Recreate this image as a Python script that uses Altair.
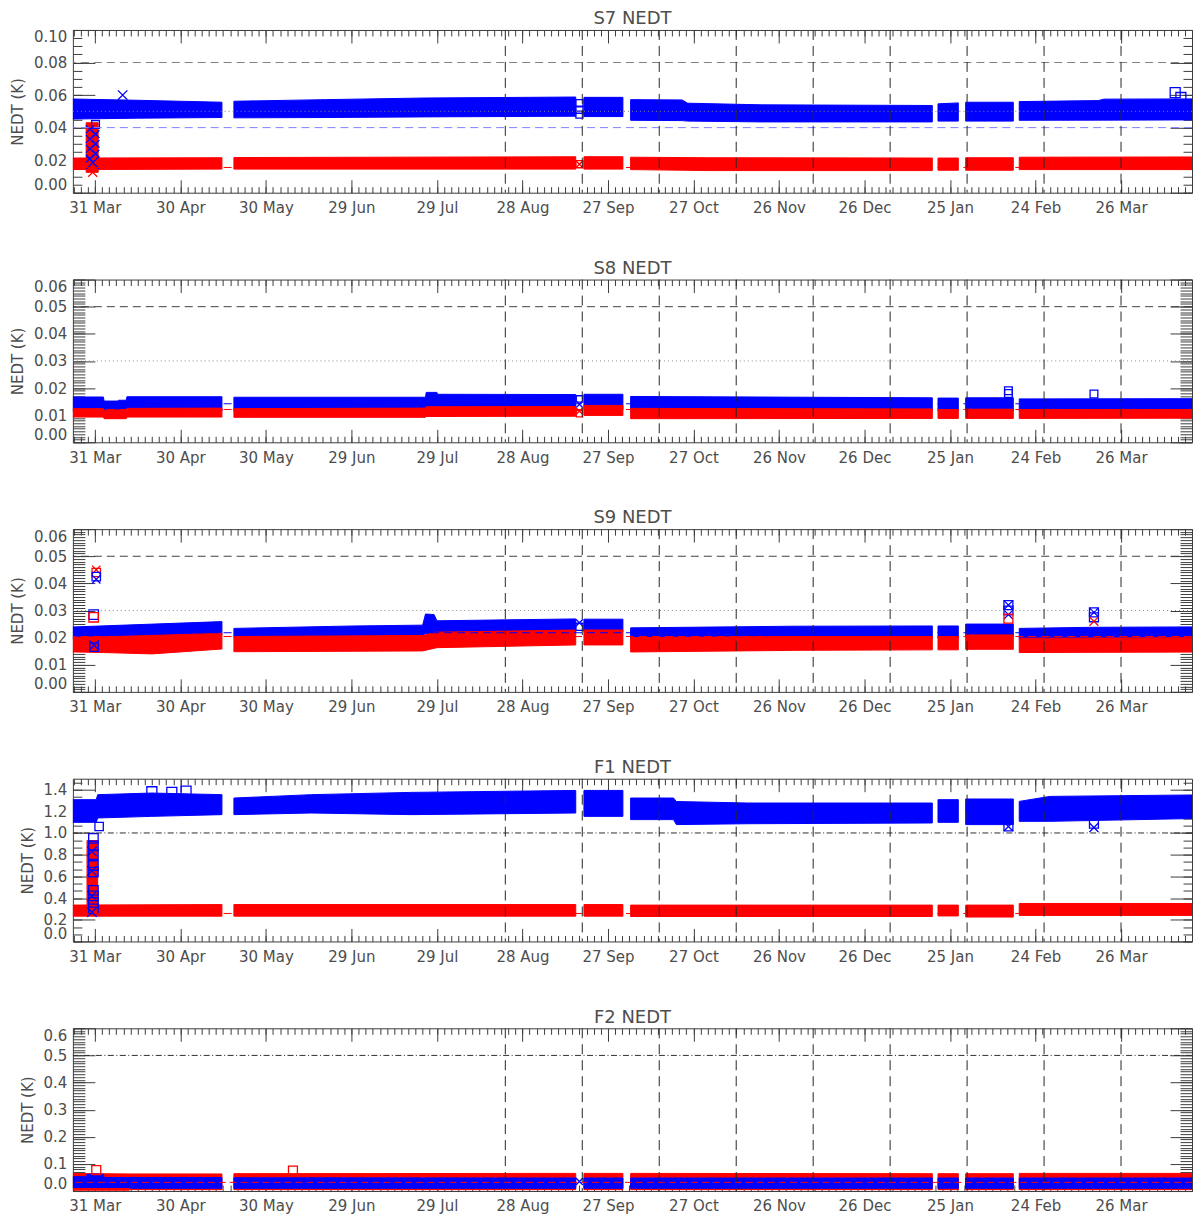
import json
import altair as alt
import pandas as pd

REF = pd.Timestamp("2017-03-31")


def day(s):
    return (pd.Timestamp(s) - REF) / pd.Timedelta(days=1)


W, H = 1121, 163
X_DOMAIN = [-7.7, 384.9]
BLUE, RED = "#0000ff", "#ff0000"
TXT = "#4d4d4d"
AXC = "#3c3c3c"
FONT = "DejaVu Sans"
XPATH = "M-1,-1L1,1M-1,1L1,-1"

# ---------------- x axis ----------------
X_MAJOR = [0, 30, 60, 90, 120, 150, 180, 210, 240, 270, 300, 330, 360]
X_LABELS = ["31 Mar", "30 Apr", "30 May", "29 Jun", "29 Jul", "28 Aug", "27 Sep",
            "27 Oct", "26 Nov", "26 Dec", "25 Jan", "24 Feb", "26 Mar"]
X_MINOR = [round(-7.5 + 2.5 * i, 2) for i in range(159) if -7.5 + 2.5 * i <= X_DOMAIN[1]]
CYCLE_DATES = ["2017-08-22", "2017-09-18", "2017-10-15", "2017-11-11", "2017-12-08",
               "2018-01-04", "2018-01-31", "2018-02-27", "2018-03-26"]

# ---------------- bands: (segment, date, low, high) ----------------
S7_BLUE = [
    ("A", "2017-03-20", 0.0452, 0.0577), ("A", "2017-04-15", 0.0458, 0.0568),
    ("A", "2017-05-14 14:00", 0.0462, 0.0556),
    ("B", "2017-05-18 19:00", 0.0460, 0.0562), ("B", "2017-06-20", 0.0462, 0.0572),
    ("B", "2017-07-25", 0.0466, 0.0582), ("B", "2017-09-15 17:00", 0.0470, 0.0588),
    ("C", "2017-09-18 14:00", 0.0468, 0.0586), ("C", "2017-10-02 06:00", 0.0468, 0.0586),
    ("D", "2017-10-04 23:00", 0.0445, 0.0572), ("D", "2017-10-23", 0.0443, 0.0570),
    ("D", "2017-10-25", 0.0440, 0.0550), ("D", "2017-11-20", 0.0435, 0.0540),
    ("D", "2018-01-18 19:00", 0.0435, 0.0536),
    ("E", "2018-01-20 19:00", 0.0440, 0.0546), ("E", "2018-01-27 22:00", 0.0440, 0.0552),
    ("F", "2018-01-30 12:00", 0.0440, 0.0556), ("F", "2018-02-16 05:00", 0.0440, 0.0556),
    ("G", "2018-02-18 07:00", 0.0445, 0.0560), ("G", "2018-03-18", 0.0446, 0.0566),
    ("G", "2018-03-20", 0.0446, 0.0575), ("G", "2018-04-30", 0.0448, 0.0577),
]
S7_RED = [
    ("A", "2017-03-20", 0.0142, 0.0213), ("A", "2017-05-14 14:00", 0.0145, 0.0215),
    ("S", "2017-03-27 23:00", 0.0125, 0.0430), ("S", "2017-04-01 04:00", 0.0125, 0.0430),
    ("B", "2017-05-18 19:00", 0.0145, 0.0216), ("B", "2017-09-15 17:00", 0.0145, 0.0221),
    ("C", "2017-09-18 14:00", 0.0145, 0.0221), ("C", "2017-10-02 06:00", 0.0145, 0.0221),
    ("D", "2017-10-04 23:00", 0.0142, 0.0218), ("D", "2017-11-01", 0.0136, 0.0215),
    ("D", "2018-01-18 19:00", 0.0136, 0.0213),
    ("E", "2018-01-20 19:00", 0.0138, 0.0213), ("E", "2018-01-27 22:00", 0.0138, 0.0213),
    ("F", "2018-01-30 12:00", 0.0138, 0.0215), ("F", "2018-02-16 05:00", 0.0138, 0.0215),
    ("G", "2018-02-18 07:00", 0.0142, 0.0218), ("G", "2018-04-30", 0.0142, 0.0220),
]
S8_BLUE = [
    ("A", "2017-03-20", 0.0115, 0.0167), ("A", "2017-04-03", 0.0115, 0.0167),
    ("A", "2017-04-03 06:00", 0.0115, 0.0152), ("A", "2017-04-08", 0.0115, 0.0152),
    ("A", "2017-04-08 06:00", 0.0115, 0.0155), ("A", "2017-04-11", 0.0115, 0.0155),
    ("A", "2017-04-11 06:00", 0.0115, 0.0168), ("A", "2017-05-14 14:00", 0.0115, 0.0168),
    ("B", "2017-05-18 19:00", 0.0115, 0.0166), ("B", "2017-07-25", 0.0115, 0.0166),
    ("B", "2017-07-25 06:00", 0.0118, 0.0184), ("B", "2017-07-29", 0.0118, 0.0184),
    ("B", "2017-07-29 06:00", 0.0118, 0.0177), ("B", "2017-09-15 17:00", 0.0120, 0.0176),
    ("C", "2017-09-18 14:00", 0.0120, 0.0177), ("C", "2017-10-02 06:00", 0.0120, 0.0177),
    ("D", "2017-10-04 23:00", 0.0115, 0.0169), ("D", "2018-01-18 19:00", 0.0115, 0.0164),
    ("E", "2018-01-20 19:00", 0.0115, 0.0163), ("E", "2018-01-27 22:00", 0.0115, 0.0163),
    ("F", "2018-01-30 12:00", 0.0115, 0.0164), ("F", "2018-02-16 05:00", 0.0115, 0.0164),
    ("G", "2018-02-18 07:00", 0.0115, 0.0160), ("G", "2018-04-30", 0.0115, 0.0161),
]
S8_RED = [
    ("A", "2017-03-20", 0.0093, 0.0124), ("A", "2017-04-03", 0.0093, 0.0124),
    ("A", "2017-04-03 06:00", 0.0087, 0.0118), ("A", "2017-04-11", 0.0087, 0.0120),
    ("A", "2017-04-11 06:00", 0.0093, 0.0125), ("A", "2017-05-14 14:00", 0.0093, 0.0126),
    ("B", "2017-05-18 19:00", 0.0092, 0.0124), ("B", "2017-07-25", 0.0092, 0.0126),
    ("B", "2017-07-25 06:00", 0.0095, 0.0131), ("B", "2017-09-15 17:00", 0.0096, 0.0132),
    ("C", "2017-09-18 14:00", 0.0099, 0.0136), ("C", "2017-10-02 06:00", 0.0099, 0.0136),
    ("D", "2017-10-04 23:00", 0.0087, 0.0125), ("D", "2018-01-18 19:00", 0.0088, 0.0123),
    ("E", "2018-01-20 19:00", 0.0088, 0.0121), ("E", "2018-01-27 22:00", 0.0088, 0.0121),
    ("F", "2018-01-30 12:00", 0.0088, 0.0122), ("F", "2018-02-16 05:00", 0.0088, 0.0122),
    ("G", "2018-02-18 07:00", 0.0088, 0.0121), ("G", "2018-04-30", 0.0089, 0.0121),
]
S9_BLUE = [
    ("A", "2017-03-20", 0.0195, 0.0238), ("A", "2017-05-14 14:00", 0.0210, 0.0259),
    ("B", "2017-05-18 19:00", 0.0200, 0.0234), ("B", "2017-06-30", 0.0202, 0.0243),
    ("B", "2017-07-24", 0.0203, 0.0246), ("B", "2017-07-25", 0.0215, 0.0287),
    ("B", "2017-07-28", 0.0215, 0.0285), ("B", "2017-07-29", 0.0218, 0.0262),
    ("B", "2017-09-15 17:00", 0.0222, 0.0269),
    ("C", "2017-09-18 14:00", 0.0222, 0.0268), ("C", "2017-10-02 06:00", 0.0222, 0.0268),
    ("D", "2017-10-04 23:00", 0.0195, 0.0236), ("D", "2017-12-01", 0.0198, 0.0242),
    ("D", "2018-01-18 19:00", 0.0198, 0.0243),
    ("E", "2018-01-20 19:00", 0.0198, 0.0243), ("E", "2018-01-27 22:00", 0.0198, 0.0243),
    ("F", "2018-01-30 12:00", 0.0205, 0.0250), ("F", "2018-02-16 05:00", 0.0205, 0.0250),
    ("G", "2018-02-18 07:00", 0.0193, 0.0234), ("G", "2018-03-15", 0.0193, 0.0238),
    ("G", "2018-04-30", 0.0193, 0.0240),
]
S9_RED = [
    ("A", "2017-03-20", 0.0148, 0.0201), ("A", "2017-04-03", 0.0145, 0.0203),
    ("A", "2017-04-20", 0.0140, 0.0208), ("A", "2017-05-14 14:00", 0.0158, 0.0216),
    ("B", "2017-05-18 19:00", 0.0148, 0.0204), ("B", "2017-07-24", 0.0151, 0.0208),
    ("B", "2017-07-29", 0.0163, 0.0220), ("B", "2017-09-15 17:00", 0.0173, 0.0228),
    ("C", "2017-09-18 14:00", 0.0173, 0.0228), ("C", "2017-10-02 06:00", 0.0173, 0.0228),
    ("D", "2017-10-04 23:00", 0.0147, 0.0200), ("D", "2017-12-01", 0.0153, 0.0204),
    ("D", "2018-01-18 19:00", 0.0155, 0.0204),
    ("E", "2018-01-20 19:00", 0.0155, 0.0204), ("E", "2018-01-27 22:00", 0.0155, 0.0204),
    ("F", "2018-01-30 12:00", 0.0157, 0.0210), ("F", "2018-02-16 05:00", 0.0157, 0.0210),
    ("G", "2018-02-18 07:00", 0.0145, 0.0198), ("G", "2018-04-30", 0.0147, 0.0200),
]
F1_BLUE = [
    ("A", "2017-03-20", 1.098, 1.307), ("A", "2017-03-31 12:00", 1.098, 1.307),
    ("A", "2017-04-01", 1.138, 1.353), ("A", "2017-04-20", 1.153, 1.368),
    ("A", "2017-05-14 14:00", 1.169, 1.353),
    ("B", "2017-05-18 19:00", 1.169, 1.322), ("B", "2017-06-15", 1.184, 1.353),
    ("B", "2017-07-20", 1.169, 1.374), ("B", "2017-09-15 17:00", 1.184, 1.392),
    ("C", "2017-09-18 14:00", 1.153, 1.392), ("C", "2017-10-02 06:00", 1.153, 1.392),
    ("D", "2017-10-04 23:00", 1.123, 1.322), ("D", "2017-10-20", 1.123, 1.322),
    ("D", "2017-10-21", 1.077, 1.290), ("D", "2017-11-15", 1.085, 1.276),
    ("D", "2018-01-18 19:00", 1.092, 1.276),
    ("E", "2018-01-20 19:00", 1.098, 1.307), ("E", "2018-01-27 22:00", 1.098, 1.307),
    ("F", "2018-01-30 12:00", 1.077, 1.313), ("F", "2018-02-16 05:00", 1.077, 1.313),
    ("G", "2018-02-18 07:00", 1.107, 1.291), ("G", "2018-03-01", 1.107, 1.337),
    ("G", "2018-04-30", 1.138, 1.353),
]
F1_RED = [
    ("A", "2017-03-20", 0.233, 0.335), ("A", "2017-05-14 14:00", 0.233, 0.340),
    ("S", "2017-03-28 06:00", 0.240, 0.930), ("S", "2017-04-01 00:00", 0.240, 0.930),
    ("B", "2017-05-18 19:00", 0.233, 0.340), ("B", "2017-09-15 17:00", 0.233, 0.340),
    ("C", "2017-09-18 14:00", 0.233, 0.340), ("C", "2017-10-02 06:00", 0.233, 0.340),
    ("D", "2017-10-04 23:00", 0.230, 0.335), ("D", "2018-01-18 19:00", 0.230, 0.335),
    ("E", "2018-01-20 19:00", 0.235, 0.335), ("E", "2018-01-27 22:00", 0.235, 0.335),
    ("F", "2018-01-30 12:00", 0.225, 0.335), ("F", "2018-02-16 05:00", 0.225, 0.335),
    ("G", "2018-02-18 07:00", 0.240, 0.350), ("G", "2018-04-30", 0.240, 0.350),
]
F2_RED = [
    ("A", "2017-03-20", 0.003, 0.065), ("A", "2017-04-12", 0.003, 0.063),
    ("A", "2017-04-12 06:00", 0.005, 0.063), ("A", "2017-05-14 14:00", 0.005, 0.063),
    ("B", "2017-05-18 19:00", 0.005, 0.064), ("B", "2017-09-15 17:00", 0.005, 0.065),
    ("C", "2017-09-18 14:00", 0.005, 0.065), ("C", "2017-10-02 06:00", 0.005, 0.065),
    ("D", "2017-10-04 23:00", 0.005, 0.065), ("D", "2018-01-18 19:00", 0.005, 0.064),
    ("E", "2018-01-20 19:00", 0.005, 0.064), ("E", "2018-01-27 22:00", 0.005, 0.064),
    ("F", "2018-01-30 12:00", 0.005, 0.064), ("F", "2018-02-16 05:00", 0.005, 0.064),
    ("G", "2018-02-18 07:00", 0.005, 0.065), ("G", "2018-04-30", 0.005, 0.065),
]
F2_BLUE = [
    ("A", "2017-03-20", 0.013, 0.053), ("A", "2017-03-28", 0.013, 0.053),
    ("A", "2017-03-28 06:00", 0.013, 0.062), ("A", "2017-04-03", 0.013, 0.062),
    ("A", "2017-04-03 06:00", 0.013, 0.050), ("A", "2017-04-12", 0.013, 0.050),
    ("A", "2017-04-12 06:00", 0.010, 0.050), ("A", "2017-05-14 14:00", 0.010, 0.050),
    ("B", "2017-05-18 19:00", 0.010, 0.049), ("B", "2017-09-15 17:00", 0.010, 0.048),
    ("C", "2017-09-18 14:00", 0.010, 0.048), ("C", "2017-10-02 06:00", 0.010, 0.048),
    ("D", "2017-10-04 23:00", 0.010, 0.048), ("D", "2018-01-18 19:00", 0.010, 0.048),
    ("E", "2018-01-20 19:00", 0.010, 0.048), ("E", "2018-01-27 22:00", 0.010, 0.048),
    ("F", "2018-01-30 12:00", 0.010, 0.048), ("F", "2018-02-16 05:00", 0.010, 0.048),
    ("G", "2018-02-18 07:00", 0.010, 0.048), ("G", "2018-04-30", 0.010, 0.048),
]

# ---------------- isolated points: (date, value, colour, shape, size) ----------------
S7_PTS = [
    ("2017-03-29 06:00", 0.021, "b", "x", 60), ("2017-03-29 06:00", 0.027, "b", "x", 60),
    ("2017-03-29 06:00", 0.033, "b", "x", 60), ("2017-03-29 06:00", 0.039, "b", "x", 60),
    ("2017-03-31 06:00", 0.024, "b", "x", 60), ("2017-03-31 06:00", 0.030, "b", "x", 60),
    ("2017-03-31 06:00", 0.036, "b", "x", 60), ("2017-03-31 06:00", 0.042, "b", "sq", 60),
    ("2017-03-30 06:00", 0.0185, "b", "x", 160), ("2017-03-30 06:00", 0.0125, "r", "x", 80),
    ("2017-04-09 18:00", 0.060, "b", "x", 90),
    ("2017-09-17", 0.055, "b", "sq", 50), ("2017-09-17", 0.051, "b", "sq", 50),
    ("2017-09-17", 0.048, "b", "sq", 50), ("2017-09-17", 0.0175, "r", "sq", 50),
    ("2017-09-17", 0.0175, "r", "x", 50),
    ("2018-04-14", 0.0615, "b", "sq", 100), ("2018-04-16", 0.0585, "b", "sq", 100),
]
S8_PTS = [
    ("2018-02-14 12:00", 0.0190, "b", "sq", 60), ("2018-02-14 12:00", 0.0180, "b", "sq", 60),
    ("2018-03-16 12:00", 0.0178, "b", "sq", 60),
    ("2017-09-17", 0.0160, "b", "sq", 40), ("2017-09-17", 0.0140, "b", "x", 40),
    ("2017-09-17", 0.0115, "r", "x", 40), ("2017-09-17", 0.0105, "r", "sq", 40),
]
S9_PTS = [
    ("2017-03-31 12:00", 0.0450, "r", "x", 70), ("2017-03-31 12:00", 0.0440, "r", "sq", 70),
    ("2017-03-31 12:00", 0.0425, "b", "sq", 70), ("2017-03-31 12:00", 0.0415, "b", "x", 70),
    ("2017-03-30 14:00", 0.0285, "b", "sq", 90), ("2017-03-30 14:00", 0.0275, "r", "sq", 90),
    ("2017-03-30 18:00", 0.0172, "b", "x", 90), ("2017-03-30 18:00", 0.0165, "b", "sq", 70),
    ("2017-09-17", 0.0255, "b", "x", 50), ("2017-09-17", 0.0240, "b", "sq", 50),
    ("2018-02-14 12:00", 0.0320, "b", "sq", 80), ("2018-02-14 12:00", 0.0320, "b", "x", 80),
    ("2018-02-14 12:00", 0.0300, "b", "sq", 80), ("2018-02-14 12:00", 0.0285, "b", "x", 80),
    ("2018-02-14 12:00", 0.0270, "r", "sq", 80),
    ("2018-03-16 12:00", 0.0293, "b", "sq", 80), ("2018-03-16 12:00", 0.0293, "b", "x", 80),
    ("2018-03-16 12:00", 0.0275, "b", "sq", 80), ("2018-03-16 12:00", 0.0260, "r", "x", 80),
]
F1_PTS = [
    ("2017-03-30 12:00", 0.95, "b", "sq", 90), ("2017-03-30 12:00", 0.88, "b", "sq", 90),
    ("2017-03-30 12:00", 0.80, "b", "sq", 90), ("2017-03-30 12:00", 0.70, "b", "sq", 90),
    ("2017-03-30 12:00", 0.64, "b", "sq", 90), ("2017-03-30 12:00", 0.47, "b", "sq", 90),
    ("2017-03-30 12:00", 0.42, "b", "sq", 90), ("2017-03-30 12:00", 0.36, "b", "sq", 90),
    ("2017-03-30 12:00", 0.30, "b", "sq", 90),
    ("2017-03-30", 0.27, "b", "x", 90), ("2017-03-30", 0.42, "b", "x", 90),
    ("2017-03-30", 0.65, "b", "x", 90), ("2017-03-30", 0.83, "b", "x", 90),
    ("2017-04-01 12:00", 1.06, "b", "sq", 70),
    ("2017-04-20", 1.380, "b", "sq", 100), ("2017-04-27", 1.375, "b", "sq", 100),
    ("2017-05-02", 1.385, "b", "sq", 100),
    ("2018-02-14 12:00", 1.06, "b", "sq", 80), ("2018-02-14 12:00", 1.06, "b", "x", 80),
    ("2018-03-16 12:00", 1.085, "b", "sq", 80), ("2018-03-16 12:00", 1.05, "b", "x", 80),
]
F2_PTS = [
    ("2017-03-31 12:00", 0.077, "r", "sq", 80), ("2017-06-08 12:00", 0.075, "r", "sq", 80),
    ("2017-09-17", 0.035, "b", "x", 50),
]

# ---------------- reference lines: (value, colour, dash) ----------------
DASH = [8, 5]
DOT = [1, 3]
DASHDOT = [6, 2.5, 1, 2.5]
S7_LINES = [(0.0155, RED, DASH), (0.04, "#7f7fff", DASH), (0.05, "#808080", DOT), (0.08, "#808080", DASH)]
S8_LINES = [(0.0142, BLUE, DASH), (0.0121, RED, DASH), (0.03, "#8c8c8c", DOT), (0.05, "#404040", DASH)]
S9_LINES = [(0.0218, BLUE, DASH), (0.0204, RED, DASH), (0.03, "#8c8c8c", DOT), (0.05, "#404040", DASH)]
F1_LINES = [(0.258, RED, DASH), (1.0, "#303030", DASHDOT)]
F2_LINES = [(0.032, RED, [7, 4]), (0.5, "#303030", DASHDOT)]

COLS = {"b": BLUE, "r": RED}
SHAPES = {"sq": "square", "x": XPATH}


def band_df(rows):
    return pd.DataFrame({"seg": [r[0] for r in rows], "x": [day(r[1]) for r in rows],
                         "lo": [r[2] for r in rows], "hi": [r[3] for r in rows]})


def pts_df(rows):
    return pd.DataFrame({"x": [day(r[0]) for r in rows], "v": [r[1] for r in rows],
                         "c": [COLS[r[2]] for r in rows], "s": [SHAPES[r[3]] for r in rows],
                         "z": [r[4] for r in rows]})


def panel(title, ymax, y_major, y_minor, fmt, minor_len, bands, pts, lines):
    xs = alt.Scale(domain=X_DOMAIN, nice=False, zero=False)
    ys = alt.Scale(domain=[0, ymax], nice=False, zero=False)
    layers = []
    for rows, col in bands:
        layers.append(
            alt.Chart(band_df(rows)).mark_area(color=col, stroke=col, strokeWidth=1, clip=True, opacity=1)
            .encode(x=alt.X("x:Q", scale=xs, axis=None), y=alt.Y("lo:Q", scale=ys, axis=None),
                    y2="hi:Q", detail="seg:N"))
    layers.append(
        alt.Chart(pts_df(pts)).mark_point(filled=False, strokeWidth=1.3, clip=True, opacity=1)
        .encode(x=alt.X("x:Q", scale=xs, axis=None), y=alt.Y("v:Q", scale=ys, axis=None),
                color=alt.Color("c:N", scale=None), shape=alt.Shape("s:N", scale=None),
                size=alt.Size("z:Q", scale=None)))
    for v, col, dash in lines:
        layers.append(
            alt.Chart(pd.DataFrame({"v": [v]})).mark_rule(color=col, strokeDash=dash, strokeWidth=1)
            .encode(y=alt.Y("v:Q", scale=ys, axis=None)))
    layers.append(
        alt.Chart(pd.DataFrame({"x": [day(d) for d in CYCLE_DATES]}))
        .mark_rule(color="#262626", strokeDash=[10, 6], strokeWidth=1)
        .encode(x=alt.X("x:Q", scale=xs, axis=None)))

    common = dict(domain=False, grid=False)
    tickc = dict(tickColor=AXC, tickWidth=1, labels=False, title=None)
    label_expr = json.dumps(X_LABELS) + "[round(datum.value / 30)]"
    axes = [
        (alt.Axis(orient="bottom", values=X_MAJOR, labelExpr=label_expr, ticks=False, tickSize=0,
                  labelPadding=8, labelFont=FONT, labelFontSize=15, labelColor=TXT,
                  labelOverlap=False, title=None, **common),
         alt.Axis(orient="left", values=y_major, format=fmt, ticks=False, tickSize=0, labelPadding=6,
                  labelFlush=True, labelFont=FONT, labelFontSize=15, labelColor=TXT, labelOverlap=False,
                  title="NEDT (K)", titleFont=FONT, titleFontSize=15, titleFontWeight="normal",
                  titleColor=TXT, titlePadding=8, **common)),
        (alt.Axis(orient="top", offset=-H, values=X_MAJOR, tickSize=13, **tickc, **common),
         alt.Axis(orient="right", offset=-W, values=y_major, tickSize=22, **tickc, **common)),
        (alt.Axis(orient="top", offset=-H, values=X_MINOR, tickSize=6, **tickc, **common),
         alt.Axis(orient="right", offset=-W, values=y_minor, tickSize=minor_len, **tickc, **common)),
        (alt.Axis(orient="bottom", offset=-H, values=X_MAJOR, tickSize=13, **tickc, **common),
         alt.Axis(orient="left", offset=-W, values=y_major, tickSize=22, **tickc, **common)),
        (alt.Axis(orient="bottom", offset=-H, values=X_MINOR, tickSize=6, **tickc, **common),
         alt.Axis(orient="left", offset=-W, values=y_minor, tickSize=minor_len, **tickc, **common)),
    ]
    base = pd.DataFrame({"x": X_DOMAIN, "y": [0, ymax]})
    for xa, ya in axes:
        layers.append(
            alt.Chart(base).mark_point(opacity=0)
            .encode(x=alt.X("x:Q", scale=xs, axis=xa), y=alt.Y("y:Q", scale=ys, axis=ya)))
    return (alt.layer(*layers)
            .resolve_axis(x="independent", y="independent")
            .properties(width=W, height=H,
                        title=alt.TitleParams(title, fontSize=18, font=FONT, fontWeight="normal",
                                              color=TXT, offset=-15, baseline="alphabetic",
                                              anchor="middle", frame="group")))


p1 = panel("S7 NEDT", 0.1, [0, 0.02, 0.04, 0.06, 0.08, 0.1],
           [round(i * 0.005, 4) for i in range(21)], ".2f", 9,
           [(S7_BLUE, BLUE), (S7_RED, RED)], S7_PTS, S7_LINES)
p2 = panel("S8 NEDT", 0.06, [0, 0.01, 0.02, 0.03, 0.04, 0.05, 0.06],
           [round(i * 0.001, 4) for i in range(61)], ".2f", 12,
           [(S8_BLUE, BLUE), (S8_RED, RED)], S8_PTS, S8_LINES)
p3 = panel("S9 NEDT", 0.06, [0, 0.01, 0.02, 0.03, 0.04, 0.05, 0.06],
           [round(i * 0.001, 4) for i in range(61)], ".2f", 12,
           [(S9_BLUE, BLUE), (S9_RED, RED)], S9_PTS, S9_LINES)
p4 = panel("F1 NEDT", 1.5, [0, 0.2, 0.4, 0.6, 0.8, 1.0, 1.2, 1.4],
           [round(i * 0.2 / 3, 5) for i in range(23)], ".1f", 9,
           [(F1_BLUE, BLUE), (F1_RED, RED)], F1_PTS, F1_LINES)
p5 = panel("F2 NEDT", 0.6, [0, 0.1, 0.2, 0.3, 0.4, 0.5, 0.6],
           [round(i * 0.01, 4) for i in range(61)], ".1f", 12,
           [(F2_RED, RED), (F2_BLUE, BLUE)], F2_PTS, F2_LINES)

chart = (alt.vconcat(p1, p2, p3, p4, p5, spacing=42)
         .properties(padding={"left": 2, "top": 0, "right": 0, "bottom": 0}, background="white")
         .configure_view(stroke=AXC, strokeWidth=1))

chart.save("out.html", embed_options={"renderer": "svg", "actions": False})
